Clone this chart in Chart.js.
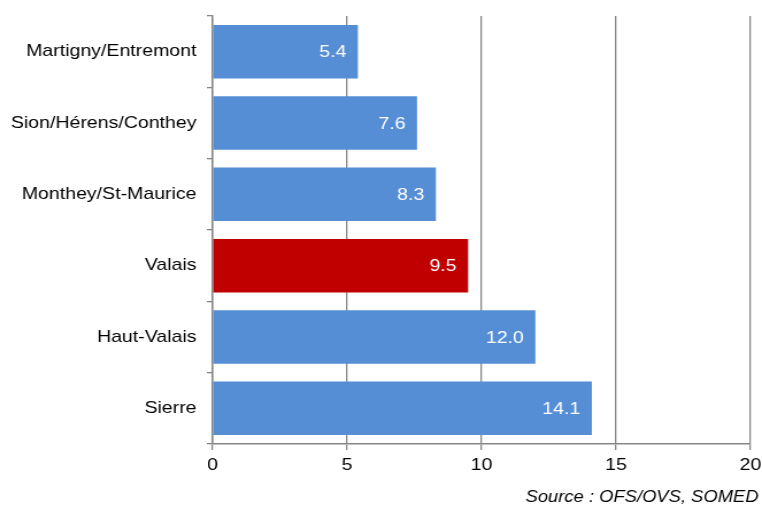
<!DOCTYPE html>
<html>
<head>
<meta charset="utf-8">
<script src="https://cdn.jsdelivr.net/npm/chart.js@4/dist/chart.umd.min.js"></script>
<style>
  html, body { margin: 0; padding: 0; background: #fff; overflow: hidden; }
  /* the reference is slightly stretched horizontally, so draw narrower and scale up */
  #wrap { width: 663px; height: 506px; transform: scaleX(1.1493); transform-origin: 0 0; }
</style>
</head>
<body>
<div id="wrap"><canvas id="chart"></canvas></div>
<script>
const regions = ['Martigny/Entremont', 'Sion/Hérens/Conthey', 'Monthey/St-Maurice', 'Valais', 'Haut-Valais', 'Sierre'];
const values = [5.4, 7.6, 8.3, 9.5, 12.0, 14.1];
const xTicks = [0, 5, 10, 15, 20];
const sourceText = 'Source : OFS/OVS, SOMED';

const BLUE = '#558ED5';
const RED = '#C00000';
const AXIS = '#868686';
const FONT = "'Liberation Sans', Arial, sans-serif";

// labels inside the end of each bar
const barLabels = {
    id: 'barLabels',
    afterDatasetsDraw(chart) {
        const ctx = chart.ctx;
        const meta = chart.getDatasetMeta(0);
        ctx.save();
        ctx.fillStyle = '#fff';
        ctx.font = '17px ' + FONT;
        ctx.textAlign = 'right';
        ctx.textBaseline = 'middle';
        meta.data.forEach((bar, i) => {
            ctx.fillText(values[i].toFixed(1), bar.x - 10, bar.y + 1);
        });
        ctx.restore();
    }
};

const sourceNote = {
    id: 'sourceNote',
    afterDraw(chart) {
        const ctx = chart.ctx;
        ctx.save();
        ctx.fillStyle = '#000';
        ctx.font = 'italic 16px ' + FONT;
        ctx.textAlign = 'right';
        ctx.textBaseline = 'alphabetic';
        ctx.fillText(sourceText, 660, 502);
        ctx.restore();
    }
};

new Chart(document.getElementById('chart'), {
    type: 'bar',
    data: {
        labels: regions,
        datasets: [{
            data: values,
            backgroundColor: regions.map(r => r === 'Valais' ? RED : BLUE),
            borderWidth: 0,
            barPercentage: 0.75,
            categoryPercentage: 1.0,
        }]
    },
    options: {
        indexAxis: 'y',
        responsive: true,
        maintainAspectRatio: false,
        animation: false,
        layout: { padding: { top: 16, right: 10, bottom: 22, left: 0 } },
        plugins: {
            legend: { display: false },
            tooltip: { enabled: false }
        },
        scales: {
            x: {
                min: 0,
                max: 20,
                afterBuildTicks: (scale) => { scale.ticks = xTicks.map(v => ({ value: v })); },
                afterFit: (scale) => {
                    scale.height = 40;
                    scale.paddingLeft = 0;
                    scale.paddingRight = 0;
                },
                grid: {
                    color: AXIS,
                    lineWidth: 1.3,
                    tickLength: 6,
                    tickColor: AXIS,
                },
                border: { display: true, color: AXIS, width: 1.5 },
                ticks: {
                    color: '#000',
                    font: { family: FONT, size: 17 },
                    padding: 5,
                }
            },
            y: {
                afterFit: (scale) => {
                    scale.width = 185;
                    scale.paddingTop = 0;
                    scale.paddingBottom = 0;
                },
                grid: {
                    offset: true,
                    drawOnChartArea: false,
                    drawTicks: true,
                    tickLength: 5,
                    color: AXIS,
                    lineWidth: 1.3,
                },
                border: { display: true, color: AXIS, width: 1.5 },
                ticks: {
                    color: '#000',
                    font: { family: FONT, size: 17 },
                    padding: 9,
                }
            }
        }
    },
    plugins: [barLabels, sourceNote]
});
</script>
</body>
</html>
